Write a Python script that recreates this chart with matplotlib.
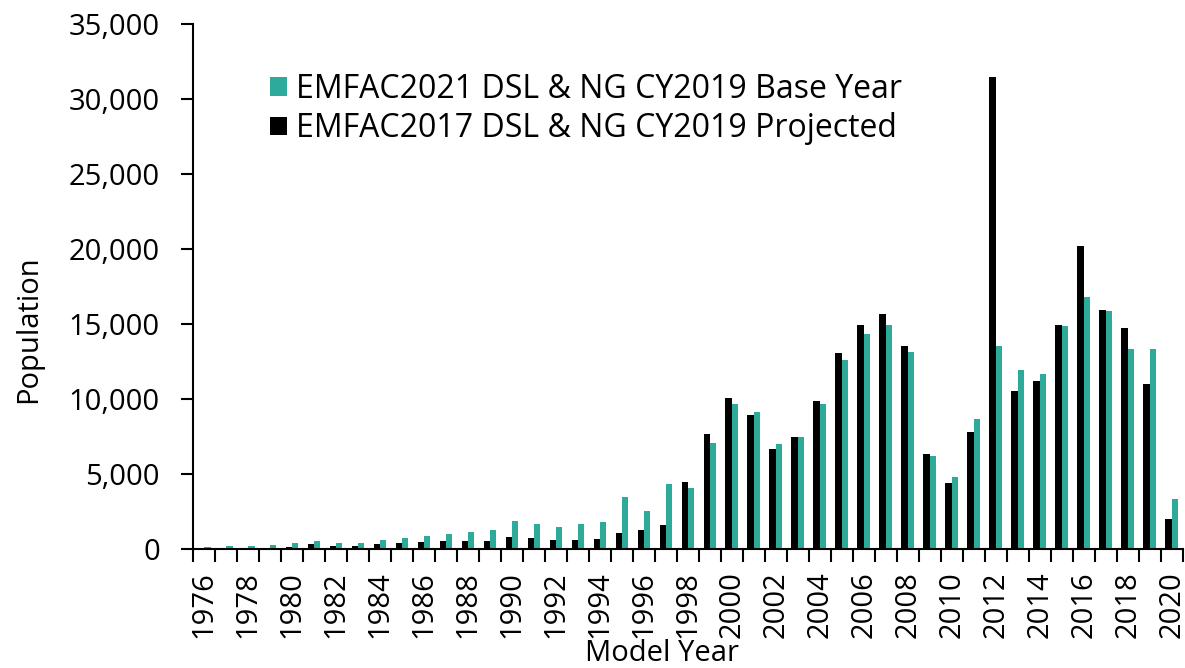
import matplotlib.pyplot as plt
import numpy as np
from matplotlib.ticker import FuncFormatter

plt.rcParams['font.family'] = ['Open Sans', 'DejaVu Sans']

# Model years and population by series
years = list(range(1976, 2021))
emfac2021_base = [150, 200, 220, 290, 400, 510, 400, 420, 580, 730,
                  890, 1020, 1160, 1290, 1840, 1640, 1470, 1640, 1800, 3440,
                  2530, 4330, 4050, 7070, 9640, 9110, 7010, 7470, 9640, 12630,
                  14310, 14930, 13110, 6210, 4810, 8670, 13560, 11920, 11700, 14840,
                  16810, 15840, 13360, 13360, 3350]
emfac2017_proj = [0, 0, 30, 100, 150, 310, 220, 220, 310, 400,
                  440, 530, 510, 530, 800, 710, 600, 620, 640, 1040,
                  1290, 1580, 4500, 7650, 10040, 8910, 6700, 7470, 9840, 13090,
                  14950, 15680, 13560, 6320, 4420, 7820, 31440, 10520, 11210, 14930,
                  20220, 15970, 14750, 11010, 2000]

teal = '#2DAA99'
x = np.arange(len(years))
w = 0.29
fs = 21

fig = plt.figure(figsize=(11.85, 6.68), dpi=100)
ax = fig.add_axes([0.163, 0.178, 0.835, 0.786])

ax.bar(x - w / 2, emfac2017_proj, width=w, color='black',
       label='EMFAC2017 DSL & NG CY2019 Projected')
ax.bar(x + w / 2, emfac2021_base, width=w, color=teal,
       label='EMFAC2021 DSL & NG CY2019 Base Year')

ax.set_xlim(-0.5, len(years) - 0.5)
ax.set_ylim(0, 35000)
ax.set_yticks(range(0, 35001, 5000))
ax.yaxis.set_major_formatter(FuncFormatter(lambda v, p: f'{int(v):,}'))

# labels every other year, tick marks between categories
ax.set_xticks(x[::2])
ax.set_xticklabels([str(y) for y in years[::2]], rotation=90)
ax.set_xticks(np.arange(-0.5, len(years), 1.0), minor=True)
ax.tick_params(axis='x', which='major', length=0, pad=16, labelsize=fs)
ax.tick_params(axis='x', which='minor', length=9, width=1.5, direction='out')
ax.tick_params(axis='y', length=9, width=1.5, labelsize=fs, pad=15)

for s in ['top', 'right']:
    ax.spines[s].set_visible(False)
for s in ['left', 'bottom']:
    ax.spines[s].set_linewidth(1.5)

ax.set_ylabel('Population', fontsize=fs)
ax.yaxis.set_label_coords(-0.1515, 0.419)
ax.set_xlabel('Model Year', fontsize=fs)
ax.xaxis.set_label_coords(0.4737, -0.172)

h, l = ax.get_legend_handles_labels()
ax.legend(h[::-1], l[::-1], loc='upper left', bbox_to_anchor=(0.078, 0.907),
          frameon=False, fontsize=23, handlelength=0.53, handleheight=0.53,
          handletextpad=0.28, labelspacing=0.2, borderpad=0, borderaxespad=0)

fig.savefig('out.png', dpi=100)
